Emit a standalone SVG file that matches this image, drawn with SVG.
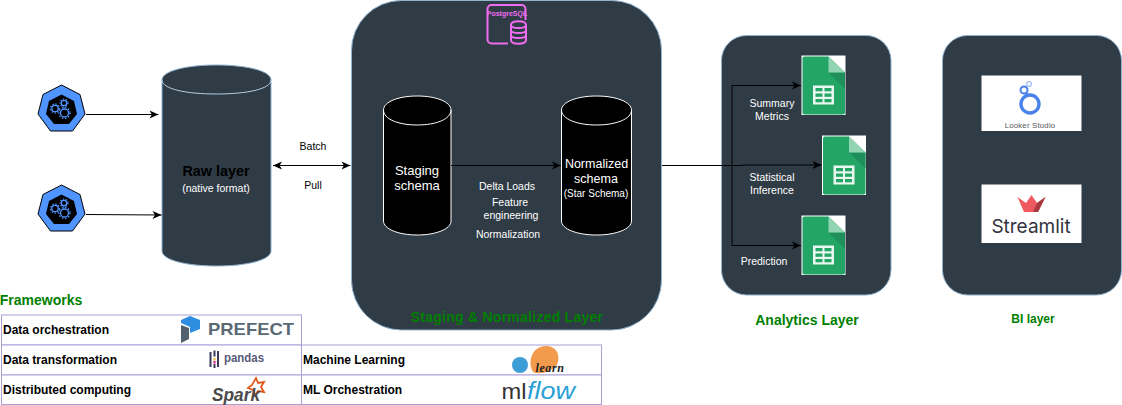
<svg xmlns="http://www.w3.org/2000/svg" width="1122" height="405" viewBox="0 0 1122 405">
<style>
text{font-family:"Liberation Sans",Arial,sans-serif;text-anchor:middle}
.panel{fill:#2f3b45;stroke:#8fb3d1;stroke-width:1}
.w{fill:#fff}
.k{fill:#000}
.s10{font-size:10.500px}
.s12{font-size:13px}
.g{fill:#008000;font-weight:bold}
.t{font-size:12px;font-weight:bold;text-anchor:start;fill:#000}
.cell{fill:#fff;stroke:#a9a0d8;stroke-width:1}
.cyl{fill:#000;stroke:#fff;stroke-width:1}
.conn{fill:none;stroke:#000;stroke-width:1}
</style>
<defs>
<marker id="arr" markerWidth="12" markerHeight="10" refX="9" refY="4" orient="auto" markerUnits="userSpaceOnUse" overflow="visible">
<path d="M0 0L9 4L0 8L2.400 4Z" fill="#000"/>
</marker>
<marker id="arrs" markerWidth="12" markerHeight="10" refX="0" refY="4" orient="auto" markerUnits="userSpaceOnUse" overflow="visible">
<path d="M9 0L0 4L9 8L6.600 4Z" fill="#000"/>
</marker>
<g id="k8s">
<path d="M24.500 1L43 10.500L48 30L35.500 47H13.500L1 30L6 10.500Z" fill="#4f94ff" stroke="#000" stroke-width="1"/>
<path d="M24.500 10.500L37 17L40 30L32 40H17L9 30L12 17Z" fill="#000"/>
<g fill="none" stroke="#4f94ff" stroke-width="1.300">
<circle cx="18" cy="24.500" r="3.200"/>
<circle cx="27" cy="19" r="2.700"/>
<circle cx="27.500" cy="29" r="4"/>
<circle cx="18" cy="24.500" r="4.500" stroke-dasharray="1.400 1.600"/>
<circle cx="27" cy="19" r="3.900" stroke-dasharray="1.300 1.500"/>
<circle cx="27.500" cy="29" r="5.500" stroke-dasharray="1.500 1.700"/>
</g>
</g>
<g id="sheet">
<rect x="0" y="0" width="44" height="59.500" fill="#fff"/>
<path d="M1 3Q1 1 3 1H27L43.500 17V57Q43.500 59 41.500 59H3Q1 59 1 57Z" fill="#23a566"/>
<path d="M27 17L43.500 33V17Z" fill="#1e8f5a"/>
<path d="M27 1L43.500 17H27Z" fill="#93d4b3"/>
<rect x="11.500" y="30" width="21" height="19" fill="#eaf6f0"/>
<g fill="#23a566"><rect x="14" y="32.500" width="7" height="3.300"/><rect x="23" y="32.500" width="7" height="3.300"/><rect x="14" y="38" width="7" height="3.300"/><rect x="23" y="38" width="7" height="3.300"/><rect x="14" y="43.500" width="7" height="3.300"/><rect x="23" y="43.500" width="7" height="3.300"/></g>
</g>
</defs>

<g id="source-1"><use href="#k8s" x="37" y="84"/></g>
<g id="source-2"><use href="#k8s" x="37" y="184"/></g>

<g id="raw-layer">
<path class="panel" d="M162 80C162 71 186 65 216.500 65S271 71 271 80V251C271 260 247 266 216.500 266S162 260 162 251Z"/>
<path d="M162 80C162 89 186 94 216.500 94S271 89 271 80" fill="none" stroke="#b5cfe3" stroke-width="1"/>
<text x="216" y="176" class="k" font-size="14.400" font-weight="bold">Raw layer</text>
<text x="216" y="191.500" class="w" font-size="10.500">(native format)</text>
</g>

<g id="staging-normalized-layer">
<rect class="panel" x="351.500" y="0.500" width="310" height="329.500" rx="50" ry="50"/>
<text x="507" y="322" class="g" font-size="14" letter-spacing="0.250">Staging &amp; Normalized Layer</text>
</g>

<g id="postgresql">
<rect x="487.500" y="5" width="38" height="38.500" rx="4" fill="none" stroke="#f06cf0" stroke-width="2"/>
<rect x="508" y="20" width="19" height="25" fill="#2f3b45"/>
<path d="M511 25C511 20 526 20 526 25V40C526 45 511 45 511 40Z M511 25C511 29 526 29 526 25 M511 30C511 34 526 34 526 30 M511 35C511 39 526 39 526 35" fill="#2f3b45" stroke="#f06cf0" stroke-width="2"/>
<text x="507" y="15.500" font-size="7" font-weight="bold" style="fill:#f06cf0">PostgreSQL</text>
</g>

<g id="staging-schema">
<path class="cyl" d="M383.500 110C383.500 102 398 96 417.250 96S451 102 451 110V221C451 229 436 235 417.250 235S383.500 229 383.500 221Z"/>
<path d="M383.500 110C383.500 119 398 125 417.250 125S451 119 451 110" fill="none" stroke="#fff"/>
<text x="417" y="175" class="w s12">Staging</text>
<text x="417" y="190" class="w s12">schema</text>
</g>

<g id="normalized-schema">
<path class="cyl" d="M561.500 110C561.500 102 577 96 596.500 96S631.500 102 631.500 110V221C631.500 229 616 235 596.500 235S561.500 229 561.500 221Z"/>
<path d="M561.500 110C561.500 119 577 125 596.500 125S631.500 119 631.500 110" fill="none" stroke="#fff"/>
<text x="596.500" y="168" class="w" font-size="12.500">Normalized</text>
<text x="596" y="183" class="w" font-size="12.500">schema</text>
<text x="596" y="197" class="w" font-size="10">(Star Schema)</text>
</g>

<g id="analytics-layer">
<rect class="panel" x="721.500" y="35.500" width="169.500" height="259.500" rx="25" ry="25"/>
<text x="807" y="325" class="g" font-size="14">Analytics Layer</text>
</g>
<g id="sheet-summary"><use href="#sheet" x="801.500" y="55.500"/></g>
<g id="sheet-inference"><use href="#sheet" x="822" y="135.500"/></g>
<g id="sheet-prediction"><use href="#sheet" x="801.500" y="215.500"/></g>

<g id="bi-layer">
<rect class="panel" x="942.500" y="35.500" width="179" height="259.500" rx="25" ry="25"/>
<text x="1033" y="323" class="g" font-size="12">BI layer</text>
</g>

<g id="looker-studio">
<rect x="981.500" y="75.500" width="100" height="55.500" fill="#fff"/>
<circle cx="1030" cy="104" r="9" fill="none" stroke="#4a82ea" stroke-width="3.400"/>
<circle cx="1024" cy="90" r="3.500" fill="none" stroke="#4a82ea" stroke-width="2"/>
<path d="M1026 93L1028 95" stroke="#4a82ea" stroke-width="2"/>
<circle cx="1029" cy="84" r="2.400" fill="none" stroke="#a5c4f5" stroke-width="1.400"/>
<text x="1030" y="128" font-size="7.800" fill="#555" letter-spacing="0.200">Looker Studio</text>
</g>

<g id="streamlit">
<rect x="981.500" y="184.500" width="100" height="58.500" fill="#fff"/>
<path d="M1017.500 197L1024 212H1038L1045.500 197L1037 203L1031.500 195L1026 203Z" fill="#ee5a5f"/>
<path d="M1045.500 197L1037 203L1033 212H1038Z" fill="#a83a42"/>
<text x="1031" y="233" font-size="19" fill="#31333f" style="font-family:Inter,'Liberation Sans',sans-serif">Streamlit</text>
</g>

<g id="connectors">
<path class="conn" d="M86 114.500H158.500" marker-end="url(#arr)"/>
<path class="conn" d="M86 214.500L161.500 215" marker-end="url(#arr)"/>
<path class="conn" d="M273 165.500H350.500" marker-start="url(#arrs)" marker-end="url(#arr)"/>
<path class="conn" d="M451 165.500H561" marker-end="url(#arr)"/>
<path class="conn" d="M662 165.500H742V165H821.500" marker-end="url(#arr)"/>
<path class="conn" d="M732 165.500V85.500H801" marker-end="url(#arr)"/>
<path class="conn" d="M732 165.500V245.500H801" marker-end="url(#arr)"/>
</g>

<g id="connector-labels">
<text x="313" y="150" class="k s10">Batch</text>
<text x="313" y="189" class="k s10">Pull</text>
<text x="507" y="190" class="w s10">Delta Loads</text>
<text x="510" y="206" class="w s10">Feature</text>
<text x="511" y="219" class="w s10">engineering</text>
<text x="508" y="238" class="w s10">Normalization</text>
<text x="772" y="107" class="w s10">Summary</text>
<text x="772" y="120" class="w s10">Metrics</text>
<text x="772" y="181" class="w s10">Statistical</text>
<text x="772" y="194" class="w s10">Inference</text>
<text x="764" y="265" class="w s10">Prediction</text>
</g>

<g id="frameworks">
<text x="41" y="305" class="g" font-size="14">Frameworks</text>
<rect class="cell" x="1.500" y="315" width="300" height="30"/>
<rect class="cell" x="1.500" y="345" width="300" height="30"/>
<rect class="cell" x="1.500" y="375" width="300" height="29.500"/>
<rect class="cell" x="301.500" y="345" width="300" height="30"/>
<rect class="cell" x="301.500" y="375" width="300" height="29.500"/>
<text x="3" y="334" class="t">Data orchestration</text>
<text x="3" y="364" class="t">Data transformation</text>
<text x="3" y="394" class="t">Distributed computing</text>
<text x="303" y="364" class="t">Machine Learning</text>
<text x="303" y="394" class="t">ML Orchestration</text>
</g>

<g id="logo-prefect">
<path d="M181 320L190 316L200 320V329L190 333V327L181 323Z" fill="#2d8ddf"/>
<path d="M181 325L189 328V339L181 343Z" fill="#51626e"/>
<text x="251" y="335" font-size="17" font-weight="bold" fill="#5a6a75" textLength="86" lengthAdjust="spacingAndGlyphs">PREFECT</text>
</g>
<g id="logo-pandas">
<g fill="#3b3a5c"><rect x="209.500" y="352" width="2" height="15"/><rect x="217" y="351" width="2" height="16"/></g>
<rect x="213.500" y="350.500" width="2" height="6" fill="#3b3a5c"/>
<rect x="213.500" y="358" width="2" height="2.500" fill="#f0c020"/>
<rect x="213.500" y="361" width="2" height="2.500" fill="#e7048b"/>
<rect x="213.500" y="364" width="2" height="4" fill="#3b3a5c"/>
<text x="244" y="362" font-size="12" font-weight="bold" fill="#5a5a78" textLength="40" lengthAdjust="spacingAndGlyphs">pandas</text>
</g>
<g id="logo-spark">
<path d="M256 378L258 383L264 382L261 387L264 392L258 391L255 395L253 390L248 388L252 385Z" fill="none" stroke="#e25a1c" stroke-width="1.800"/>
<text x="236" y="401" font-size="18" font-style="italic" font-weight="bold" fill="#4b4b4b" textLength="48" lengthAdjust="spacingAndGlyphs">Spark</text>
</g>
<g id="logo-sklearn">
<circle cx="520" cy="365" r="8" fill="#3d9dd6"/>
<path d="M533 372C527 362 532 346 546 346C556 346 560 354 558 362C556 370 540 376 533 372Z" fill="#f29b4c"/>
<text x="550" y="372" font-size="12" font-style="italic" font-weight="bold" fill="#222" style="font-family:'Liberation Serif',serif" letter-spacing="0.600">learn</text>
</g>
<g id="logo-mlflow">
<text x="514" y="399" font-size="22" fill="#333" textLength="25" lengthAdjust="spacingAndGlyphs">ml</text>
<text x="551" y="399" font-size="24" font-style="italic" fill="#2a9fd6" textLength="48" lengthAdjust="spacingAndGlyphs">flow</text>
</g>
</svg>
